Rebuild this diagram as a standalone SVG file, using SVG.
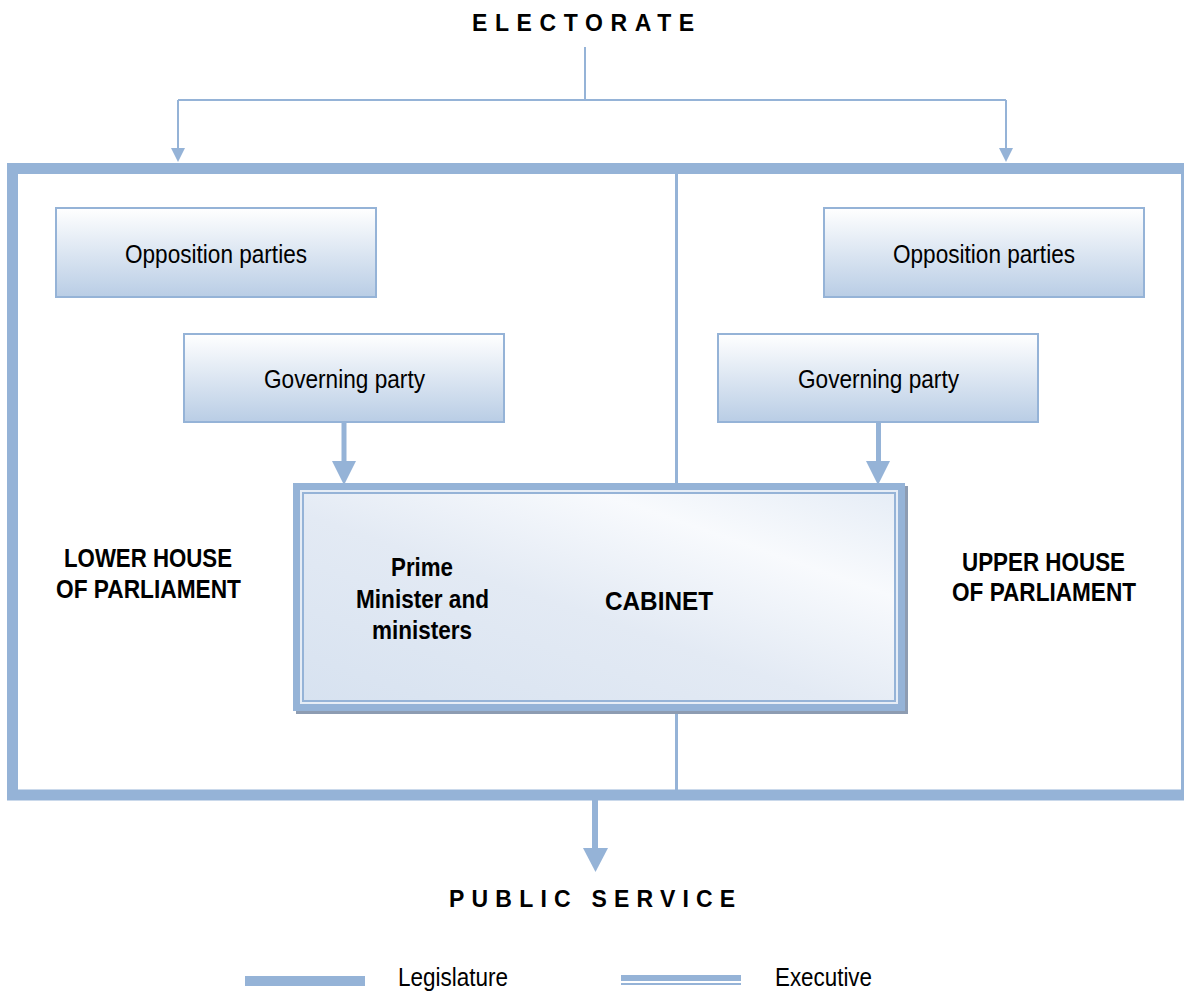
<svg xmlns="http://www.w3.org/2000/svg" width="1184" height="991" viewBox="0 0 1184 991">
<style>
text{font-family:"Liberation Sans",Arial,sans-serif;fill:#000}
.lbl{font-size:26px;text-anchor:middle}
.b{font-weight:bold;font-size:26px;text-anchor:middle}
.title{font-weight:bold;font-size:23px}
.box{fill:url(#boxg);stroke:#95b3d7;stroke-width:2}
.ln{stroke:#95b3d7;fill:none}
.ah{fill:#95b3d7}
</style>
<defs>
<linearGradient id="boxg" x1="0" y1="0" x2="0" y2="1">
<stop offset="0" stop-color="#ffffff"/>
<stop offset="1" stop-color="#b9cde5"/>
</linearGradient>
<linearGradient id="cabg" x1="0" y1="1" x2="1" y2="0">
<stop offset="0" stop-color="#d7e2f0"/>
<stop offset="0.45" stop-color="#e3eaf4"/>
<stop offset="0.75" stop-color="#f8fafd"/>
<stop offset="1" stop-color="#e6edf6"/>
</linearGradient>
</defs>

<g id="electorate"><text class="title" x="472" y="31" letter-spacing="7.6">ELECTORATE</text></g>
<g id="public-service"><text class="title" x="449" y="907" letter-spacing="7.2">PUBLIC SERVICE</text></g>

<g id="connectors">
<path class="ln" stroke-width="2" d="M585 47V100M178 100H1006M178 100V149M1006 100V149"/>
<polygon class="ah" points="171,148 185,148 178,162"/>
<polygon class="ah" points="999,148 1013,148 1006,162"/>
<rect class="ah" x="341.5" y="422" width="5" height="42"/>
<polygon class="ah" points="332,461 356,461 344,485"/>
<rect class="ah" x="876" y="422" width="5" height="42"/>
<polygon class="ah" points="866,461 890,461 878,485"/>
<rect class="ah" x="592" y="800" width="6" height="50"/>
<polygon class="ah" points="583,848 608,848 595.5,872"/>
<rect class="ah" x="675" y="174" width="3" height="310"/>
<rect class="ah" x="675" y="711" width="3" height="80"/>
</g>

<g id="parliament-frame">
<rect x="12.5" y="168.5" width="1174" height="626.5" fill="none" stroke="#95b3d7" stroke-width="11"/>
</g>

<g id="lower-house"><text class="b" x="148" y="567" textLength="168" lengthAdjust="spacingAndGlyphs">LOWER HOUSE</text><text class="b" x="148.5" y="598" textLength="185" lengthAdjust="spacingAndGlyphs">OF PARLIAMENT</text></g>
<g id="upper-house"><text class="b" x="1043.5" y="571" textLength="163" lengthAdjust="spacingAndGlyphs">UPPER HOUSE</text><text class="b" x="1044" y="601" textLength="184" lengthAdjust="spacingAndGlyphs">OF PARLIAMENT</text></g>

<g id="opp-left"><rect class="box" x="56" y="208" width="320" height="89"/><text class="lbl" x="216" y="263" textLength="182" lengthAdjust="spacingAndGlyphs">Opposition parties</text></g>
<g id="opp-right"><rect class="box" x="824" y="208" width="320" height="89"/><text class="lbl" x="984" y="263" textLength="182" lengthAdjust="spacingAndGlyphs">Opposition parties</text></g>
<g id="gov-left"><rect class="box" x="184" y="334" width="320" height="88"/><text class="lbl" x="344.5" y="388" textLength="161" lengthAdjust="spacingAndGlyphs">Governing party</text></g>
<g id="gov-right"><rect class="box" x="718" y="334" width="320" height="88"/><text class="lbl" x="878.5" y="388" textLength="161" lengthAdjust="spacingAndGlyphs">Governing party</text></g>

<g id="cabinet">
<rect x="296" y="486" width="612" height="228" fill="#8d9cb2"/>
<rect x="293" y="483" width="612" height="228" fill="#95b3d7"/>
<rect x="300" y="490" width="598" height="214" fill="#e6edf6"/>
<rect x="303" y="493" width="592" height="208" fill="url(#cabg)" stroke="#95b3d7" stroke-width="2"/>
<text class="b" x="422" y="576" textLength="62" lengthAdjust="spacingAndGlyphs">Prime</text>
<text class="b" x="422.5" y="608" textLength="133" lengthAdjust="spacingAndGlyphs">Minister and</text>
<text class="b" x="422" y="639" textLength="100" lengthAdjust="spacingAndGlyphs">ministers</text>
<text class="b" x="659" y="610" textLength="108" lengthAdjust="spacingAndGlyphs">CABINET</text>
</g>

<g id="legend">
<rect x="245" y="976" width="120" height="10" fill="#95b3d7"/>
<text class="lbl" x="398" y="986" style="text-anchor:start" textLength="110" lengthAdjust="spacingAndGlyphs">Legislature</text>
<rect x="621" y="975" width="120" height="6" fill="#95b3d7"/>
<rect x="621" y="983" width="120" height="2" fill="#95b3d7"/>
<text class="lbl" x="775" y="986" style="text-anchor:start" textLength="97" lengthAdjust="spacingAndGlyphs">Executive</text>
</g>
</svg>
